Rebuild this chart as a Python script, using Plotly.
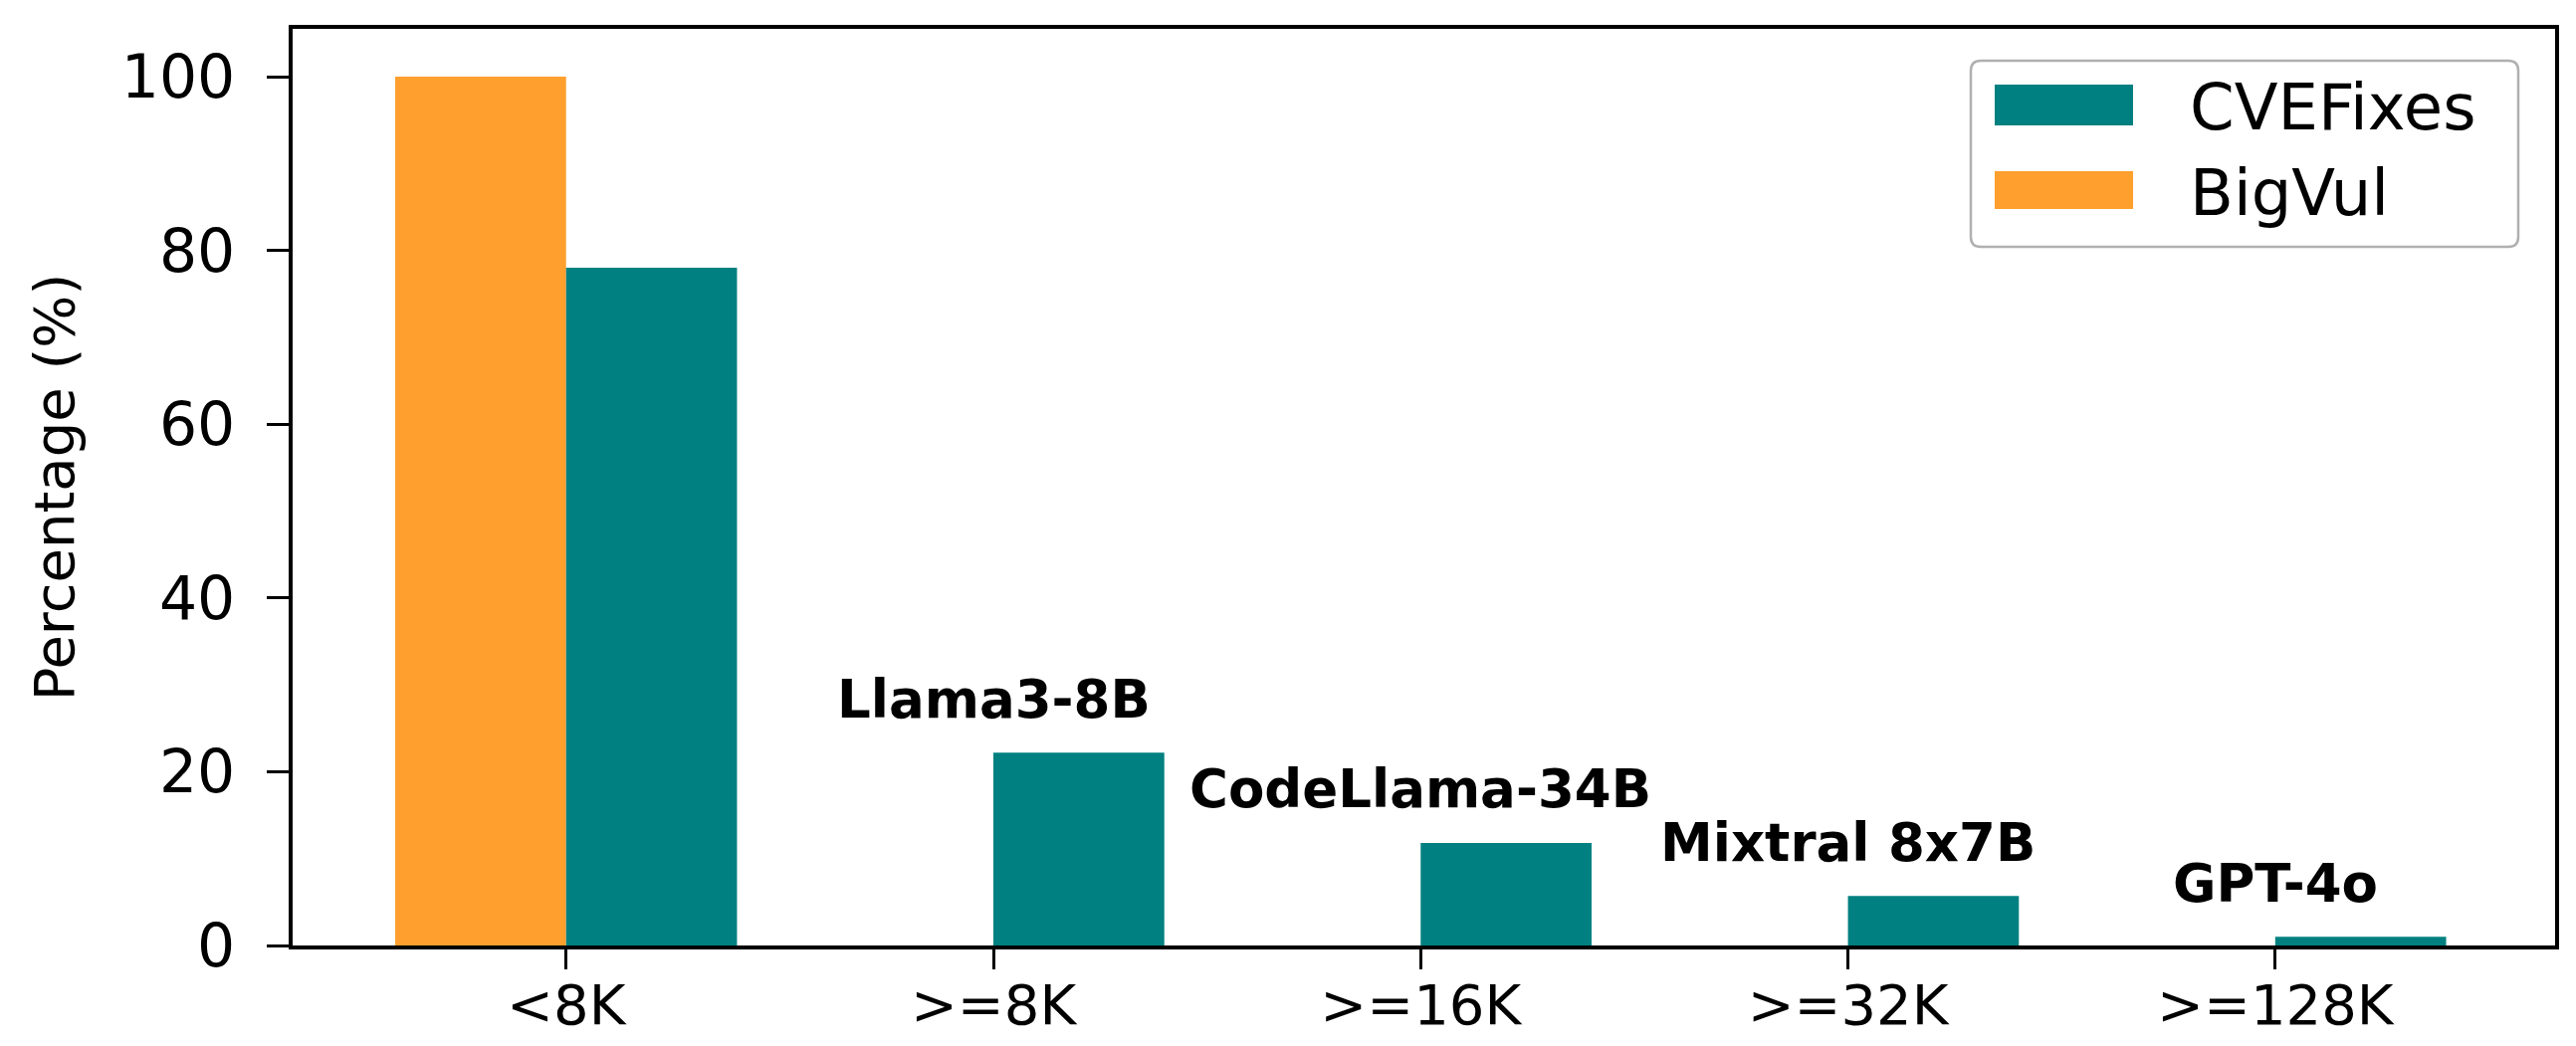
import plotly.graph_objects as go

# ---------------- data ----------------
categories = ["<8K", ">=8K", ">=16K", ">=32K", ">=128K"]
bigvul_pct = [100.0, 0, 0, 0, 0]
cvefixes_pct = [78.0, 22.2, 11.8, 5.7, 1.0]
model_names = ["Llama3-8B", "CodeLlama-34B", "Mixtral 8x7B", "GPT-4o"]
model_cats = [">=8K", ">=16K", ">=32K", ">=128K"]
y_ticks = [0, 20, 40, 60, 80, 100]

# ---------------- style ----------------
OFF = 8  # default page body margin
W, H = 2588 - OFF, 1051 - OFF
ML, MT = 294 - OFF, 29 - OFF
PW, PH = 2273, 921
MR, MB = W - ML - PW, H - MT - PH
TEAL = "#008080"
ORANGE = "#FE9F2E"
FONT = "DejaVu Sans"


def px_x(x):
    # x in reference page pixels -> paper coords
    return (x - OFF - ML) / PW


def px_y(y):
    return (MT + PH - (y - OFF)) / PH


fig = go.Figure()
fig.add_trace(go.Bar(x=categories, y=bigvul_pct, name="BigVul",
                     marker=dict(color=ORANGE, line=dict(width=0)),
                     showlegend=False))
fig.add_trace(go.Bar(x=categories, y=cvefixes_pct, name="CVEFixes",
                     marker=dict(color=TEAL, line=dict(width=0)),
                     showlegend=False))

annotations = []
val_by_cat = dict(zip(categories, cvefixes_pct))
for name, cat in zip(model_names, model_cats):
    annotations.append(dict(
        x=cat, y=val_by_cat[cat] + 6.2, xref="x", yref="y",
        text=f"<b>{name}</b>", showarrow=False,
        xanchor="center", yanchor="middle",
        font=dict(family=FONT, size=53, color="black")))

# custom legend (matplotlib style)
shapes = []
bx0, bx1, by0, by1, r = 1980, 2530, 61, 248, 10
rx, ry = r / PW, r / PH
X0, X1, Y0, Y1 = px_x(bx0), px_x(bx1), px_y(by1), px_y(by0)
path = (f"M{X0+rx},{Y0} L{X1-rx},{Y0} Q{X1},{Y0} {X1},{Y0+ry} "
        f"L{X1},{Y1-ry} Q{X1},{Y1} {X1-rx},{Y1} L{X0+rx},{Y1} "
        f"Q{X0},{Y1} {X0},{Y1-ry} L{X0},{Y0+ry} Q{X0},{Y0} {X0+rx},{Y0} Z")
shapes.append(dict(type="path", path=path, xref="paper", yref="paper",
                   line=dict(color="#b0b0b0", width=2.5), fillcolor="white",
                   layer="above"))
legend_items = [("CVEFixes", TEAL, 85, 126, 105), ("BigVul", ORANGE, 172, 210, 191)]
for label, col, hy0, hy1, ty in legend_items:
    shapes.append(dict(type="rect", xref="paper", yref="paper",
                       x0=px_x(2004), x1=px_x(2143), y0=px_y(hy1), y1=px_y(hy0),
                       fillcolor=col, line=dict(width=0), layer="above"))
    annotations.append(dict(x=px_x(2198), y=px_y(ty + 3), xref="paper", yref="paper",
                            text=label, showarrow=False, xanchor="left",
                            yanchor="middle",
                            font=dict(family=FONT, size=64, color="black")))

fig.update_layout(
    width=W, height=H,
    margin=dict(l=ML, r=MR, t=MT, b=MB, autoexpand=False),
    paper_bgcolor="white", plot_bgcolor="white",
    barmode="group", bargap=0.2, bargroupgap=0,
    font=dict(family=FONT, color="black"),
    annotations=annotations, shapes=shapes,
    showlegend=False,
)
fig.update_xaxes(
    type="category", range=[-0.64, 4.655],
    showline=True, mirror=True, linecolor="black", linewidth=3.5,
    ticks="outside", ticklen=20, tickwidth=3, tickcolor="black",
    tickfont=dict(family=FONT, size=56, color="black"),
    ticklabelstandoff=-12,
    showgrid=False, zeroline=False,
)
fig.update_yaxes(
    range=[0, 105.5], tickvals=y_ticks, ticktext=[str(v) for v in y_ticks],
    showline=True, mirror=True, linecolor="black", linewidth=3.5,
    ticks="outside", ticklen=22, tickwidth=3, tickcolor="black",
    tickfont=dict(family=FONT, size=60, color="black"),
    ticklabelstandoff=20,
    title=dict(text="Percentage (%)", font=dict(family=FONT, size=56, color="black"),
               standoff=30),
    showgrid=False, zeroline=False,
)

fig.write_html("out.html")
